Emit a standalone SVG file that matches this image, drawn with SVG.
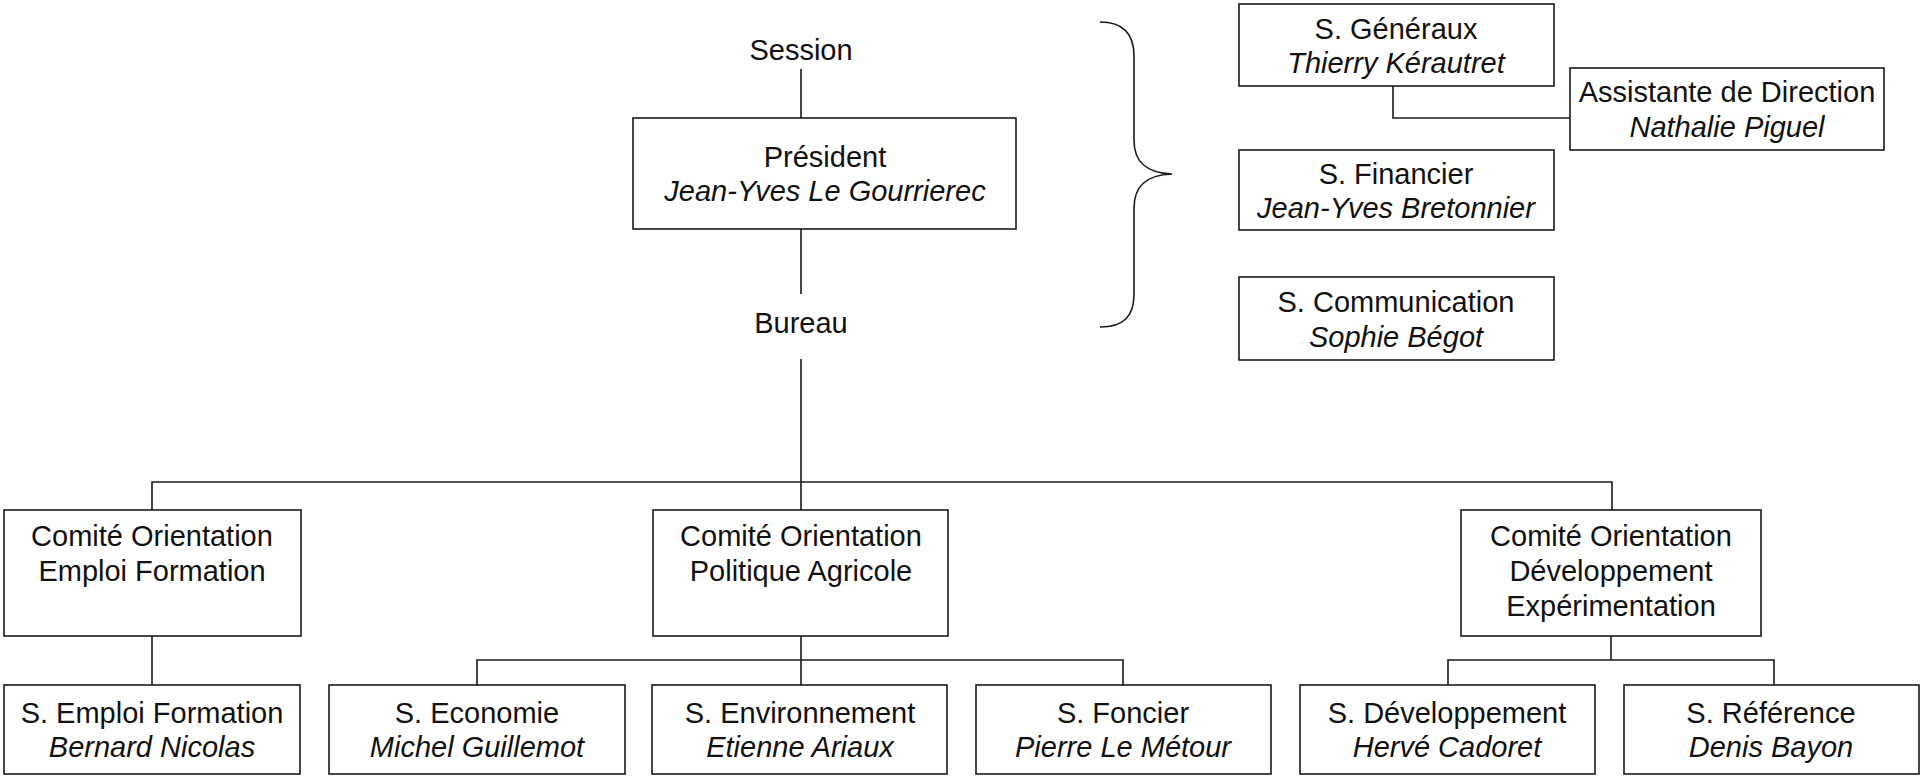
<svg xmlns="http://www.w3.org/2000/svg" width="1921" height="776" viewBox="0 0 1921 776">
<style>
.box{fill:#fff;stroke:#1a1a1a;stroke-width:1.6}
.ln{fill:none;stroke:#1a1a1a;stroke-width:1.6}
text{font-family:"Liberation Sans",Arial,sans-serif;font-size:29px;fill:#111;text-anchor:middle}
.it{font-style:italic}
</style>
<rect width="1921" height="776" fill="#fff"/>
<g id="connectors">
<line class="ln" x1="801" y1="69" x2="801" y2="118"/>
<line class="ln" x1="801" y1="229" x2="801" y2="294"/>
<line class="ln" x1="801" y1="359" x2="801" y2="510"/>
<polyline class="ln" points="152,510 152,482 1612,482 1612,510"/>
<line class="ln" x1="152" y1="636" x2="152" y2="685"/>
<line class="ln" x1="801" y1="636" x2="801" y2="685"/>
<polyline class="ln" points="477,685 477,660 1123,660 1123,685"/>
<line class="ln" x1="1611" y1="636" x2="1611" y2="660"/>
<polyline class="ln" points="1448,685 1448,660 1774,660 1774,685"/>
<polyline class="ln" points="1393,86 1393,118 1570,118"/>
<path class="ln" d="M1100,22 C1124,22 1134,34 1134,56 L1134,140 C1134,162 1146,173 1172,174 C1146,175 1134,186 1134,208 L1134,294 C1134,316 1124,327 1100,327"/>
</g>
<g id="session"><text x="801" y="60">Session</text></g>
<g id="president">
<rect class="box" x="633" y="118" width="383" height="111"/>
<text x="825" y="167">Président</text>
<text class="it" x="825" y="201">Jean-Yves Le Gourrierec</text>
</g>
<g id="bureau"><text x="801" y="333">Bureau</text></g>
<g id="s-generaux">
<rect class="box" x="1239" y="4" width="315" height="82"/>
<text x="1396" y="39">S. Généraux</text>
<text class="it" x="1396" y="73">Thierry Kérautret</text>
</g>
<g id="assistante">
<rect class="box" x="1570" y="68" width="314" height="82"/>
<text x="1727" y="102">Assistante de Direction</text>
<text class="it" x="1727" y="137">Nathalie Piguel</text>
</g>
<g id="s-financier">
<rect class="box" x="1239" y="150" width="315" height="80"/>
<text x="1396" y="184">S. Financier</text>
<text class="it" x="1396" y="218">Jean-Yves Bretonnier</text>
</g>
<g id="s-communication">
<rect class="box" x="1239" y="277" width="315" height="83"/>
<text x="1396" y="312">S. Communication</text>
<text class="it" x="1396" y="347">Sophie Bégot</text>
</g>
<g id="co-emploi">
<rect class="box" x="4" y="510" width="297" height="126"/>
<text x="152" y="546">Comité Orientation</text>
<text x="152" y="581">Emploi Formation</text>
</g>
<g id="co-politique">
<rect class="box" x="653" y="510" width="295" height="126"/>
<text x="801" y="546">Comité Orientation</text>
<text x="801" y="581">Politique Agricole</text>
</g>
<g id="co-developpement">
<rect class="box" x="1461" y="510" width="300" height="126"/>
<text x="1611" y="546">Comité Orientation</text>
<text x="1611" y="581">Développement</text>
<text x="1611" y="616">Expérimentation</text>
</g>
<g id="s-emploi">
<rect class="box" x="4" y="685" width="296" height="89"/>
<text x="152" y="723">S. Emploi Formation</text>
<text class="it" x="152" y="757">Bernard Nicolas</text>
</g>
<g id="s-economie">
<rect class="box" x="329" y="685" width="296" height="89"/>
<text x="477" y="723">S. Economie</text>
<text class="it" x="477" y="757">Michel Guillemot</text>
</g>
<g id="s-environnement">
<rect class="box" x="652" y="685" width="295" height="89"/>
<text x="800" y="723">S. Environnement</text>
<text class="it" x="800" y="757">Etienne Ariaux</text>
</g>
<g id="s-foncier">
<rect class="box" x="976" y="685" width="295" height="89"/>
<text x="1123" y="723">S. Foncier</text>
<text class="it" x="1123" y="757">Pierre Le Métour</text>
</g>
<g id="s-developpement">
<rect class="box" x="1300" y="685" width="295" height="89"/>
<text x="1447" y="723">S. Développement</text>
<text class="it" x="1447" y="757">Hervé Cadoret</text>
</g>
<g id="s-reference">
<rect class="box" x="1624" y="685" width="295" height="89"/>
<text x="1771" y="723">S. Référence</text>
<text class="it" x="1771" y="757">Denis Bayon</text>
</g>
</svg>
